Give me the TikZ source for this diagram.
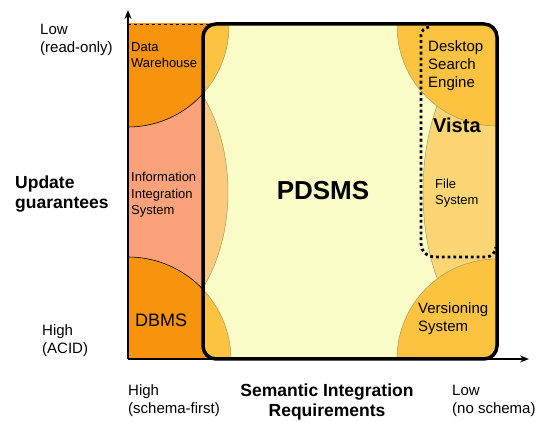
\documentclass[tikz,border=0pt]{standalone}
\usepackage{fontspec}
\setmainfont{Liberation Sans}
\usetikzlibrary{arrows.meta}
\definecolor{dworange}{HTML}{F7930C}
\definecolor{iisalmon}{HTML}{FBA27B}
\definecolor{gold}{HTML}{FCC341}
\definecolor{pale}{HTML}{FAFCC7}
\definecolor{iilight}{HTML}{FBCA7D}
\definecolor{fslight}{HTML}{FCD674}
\definecolor{ringline}{HTML}{A8985E}
\tikzset{
	axislbl/.style={anchor=west,inner sep=0pt,align=left,font=\fontsize{15}{18}\selectfont},
	axistitle/.style={inner sep=0pt,font=\fontsize{17.5}{20}\selectfont\bfseries},
	small/.style={anchor=west,inner sep=0pt,align=left,font=\fontsize{13}{16.5}\selectfont},
	mid/.style={anchor=west,inner sep=0pt,align=left,font=\fontsize{15}{18}\selectfont},
	ring/.style={draw=ringline,line width=0.5pt},
	vista/.style={line width=2.8pt,dash pattern=on 2.8pt off 3pt},
}
\newcommand{\pdsmsbox}{[rounded corners=13pt] (203,63) rectangle (497,398)}
\begin{document}
\begin{tikzpicture}[x=1pt,y=1pt]
	\useasboundingbox (0,0) rectangle (539,422);
	\coordinate (origin) at (128,63);
	\coordinate (ytop) at (128,412);
	\coordinate (xend) at (529,63);
	% left strip
	\begin{scope}
		\clip (128,63) rectangle (215,398);
		\fill[iisalmon] (128,63) rectangle (215,398);
		\draw[fill=dworange,line width=0.6pt] (128,396) circle (101);
		\draw[fill=dworange,line width=0.6pt] (128,62) circle (103);
	\end{scope}
	\draw[dashed,thin] (128,398) -- (215,398);
	% inside the PDSMS box
	\begin{scope}
		\clip \pdsmsbox;
		\fill[pale] (203,63) rectangle (497,398);
		\draw[ring,fill=iilight] (128,230) ellipse (100 and 145);
		\draw[ring,fill=gold] (128,396) circle (101);
		\draw[ring,fill=gold] (128,62) circle (103);
		\draw[ring,fill=fslight] (497,230) ellipse (74 and 147);
		\draw[ring,fill=gold] (497,396) circle (100);
		\draw[ring,fill=gold] (497,63) circle (100);
	\end{scope}
	\draw[line width=3.5pt] \pdsmsbox;
	% axes
	\draw[line width=1.6pt,-{Stealth[length=9pt,width=7pt]}] (origin) -- (ytop);
	\draw[line width=1.6pt,-{Stealth[length=9pt,width=7pt]}] (origin) -- (xend);
	% Vista
	\draw[vista] (429,395) to[out=190,in=90] (421,387) -- (421,178) to[out=-90,in=180] (434,165) -- (486,165) to[out=0,in=-95] (496,175);
	% labels
	\draw (40,382) node (ylow) [axislbl] {Low\\(read-only)};
	\draw (15,228) node (ytitle) [axistitle,anchor=west,align=left] {Update\\guarantees};
	\draw (42,81) node (yhigh) [axislbl] {High\\(ACID)};
	\draw (128,21) node (xhigh) [axislbl] {High\\(schema-first)};
	\draw (327,20) node (xtitle) [axistitle,align=center] {Semantic Integration\\Requirements};
	\draw (452,21) node (xlow) [axislbl] {Low\\(no schema)};
	\draw (131,367) node (dw) [small] {Data\\Warehouse};
	\draw (131,227) node (iis) [small] {Information\\Integration\\System};
	\draw (135,102) node (dbms) [anchor=west,inner sep=0pt,font=\fontsize{18}{20}\selectfont] {DBMS};
	\draw (323,231) node (pdsms) [inner sep=0pt,font=\fontsize{26}{30}\selectfont\bfseries] {PDSMS};
	\draw (428,356) node (dse) [mid] {Desktop\\Search\\Engine};
	\draw (433,297) node (vistalbl) [anchor=west,inner sep=0pt,font=\fontsize{20}{24}\selectfont\bfseries] {Vista};
	\draw (435,229) node (fs) [small] {File\\System};
	\draw (418,103) node (vs) [mid] {Versioning\\System};
\end{tikzpicture}
\end{document}
